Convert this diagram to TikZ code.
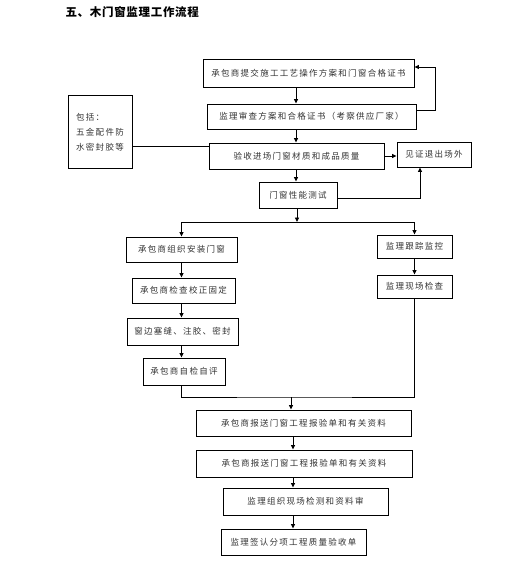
\documentclass[tikz,border=0pt]{standalone}
\usepackage{fontspec}
\usetikzlibrary{arrows.meta, calc}
\newfontfamily\cjk[LetterSpace=15]{Noto Sans CJK SC}
\newfontfamily\cjkhead[LetterSpace=6]{Noto Sans CJK SC}

\begin{document}
\begin{tikzpicture}[x=1pt, y=-1pt,
        font=\cjk\fontsize{8.5}{10}\selectfont,
        box/.style 2 args={draw, line width=0.9pt, inner sep=0pt,
            minimum width=#1pt, minimum height=#2pt, text=black!80},
        arr/.style={line width=0.9pt, -{Triangle[length=4.5pt, width=4pt]}},
        link/.style={line width=0.9pt}]
    \useasboundingbox (0,0) rectangle (528,570);
    \node[anchor=west, font=\cjkhead\bfseries\fontsize{11.5}{13}\selectfont]
        (title) at (62,12) {五、木门窗监理工作流程};

    % boxes: name/x/y/width/height/text
    \foreach \nm/\x/\y/\w/\h/\txt in {
        b1/308.5/73/211/28/{承包商提交施工工艺操作方案和门窗合格证书},
        b2/311.5/116.5/209/25/{监理审查方案和合格证书（考察供应厂家）},
        b3/296.5/156/175/26/{验收进场门窗材质和成品质量},
        reject/434/154.5/74/25/{见证退出场外},
        b4/298/195/78/26/{门窗性能测试},
        l1/181.5/249.5/111/25/{承包商组织安装门窗},
        l2/183.5/290.5/103/25/{承包商检查校正固定},
        l3/182.5/331.5/111/27/{窗边塞缝、注胶、密封},
        l4/184/371.5/82/27/{承包商自检自评},
        r1/414.5/246.5/75/23/{监理跟踪监控},
        r2/414.5/286.5/75/23/{监理现场检查},
        b5/303.5/423/215/26/{承包商报送门窗工程报验单和有关资料},
        b6/304/463.5/216/27/{承包商报送门窗工程报验单和有关资料},
        b7/305.5/501.5/165/27/{监理组织现场检测和资料审},
        b8/293.5/542/145/26/{监理签认分项工程质量验收单}}
    {
        \node[box={\w}{\h}] (\nm) at (\x,\y) {\txt};
    }
    \node[box={64}{73}, align=left, text depth=0pt] (note) at (100,131.5)
        {包括：\\[5pt]五金配件防\\[5pt]水密封胶等};

    \coordinate (top) at (296,0);
    \coordinate (split) at (297,222);
    \coordinate (merge) at (291,397);
    \coordinate (bot) at (293,0);

    % main line
    \draw[arr] (b1.south -| top) -- (b2.north -| top);
    \draw[arr] (b2.south -| top) -- (b3.north -| top);
    \draw[arr] (b3.south -| top) -- (b4.north -| top);
    \draw[arr] ([yshift=6pt]b2.east) -- ++(19,0) |- ([yshift=6pt]b1.east);
    \draw[link] ([yshift=10pt]b3.west -| note.east) -- ([yshift=10pt]b3.west);
    \draw[arr] (b3.east) -- (b3.east -| reject.west);
    \draw[arr] ([yshift=-3pt]b4.east) -| ([xshift=-14pt]reject.south);

    % branches
    \draw[arr] (b4.south -| split) -- (split);
    \draw[arr] (split) -| (l1.north);
    \draw[arr] (split) -| (r1.north);
    \draw[arr] (l1.south) -- (l2.north -| l1.south);
    \draw[arr] (l2.south -| l1.south) -- (l3.north -| l1.south);
    \draw[arr] (l3.south -| l1.south) -- (l4.north -| l1.south);
    \draw[arr] (r1.south) -- (r2.north);
    \draw[link] (l4.south -| l1.south) |- (merge) -| (r2.south);
    \draw[arr] (merge) -- (merge |- b5.north);

    % final steps
    \draw[arr] (b5.south -| bot) -- (b6.north -| bot);
    \draw[arr] (b6.south -| bot) -- (b7.north -| bot);
    \draw[arr] (b7.south -| bot) -- (b8.north -| bot);
\end{tikzpicture}
\end{document}
